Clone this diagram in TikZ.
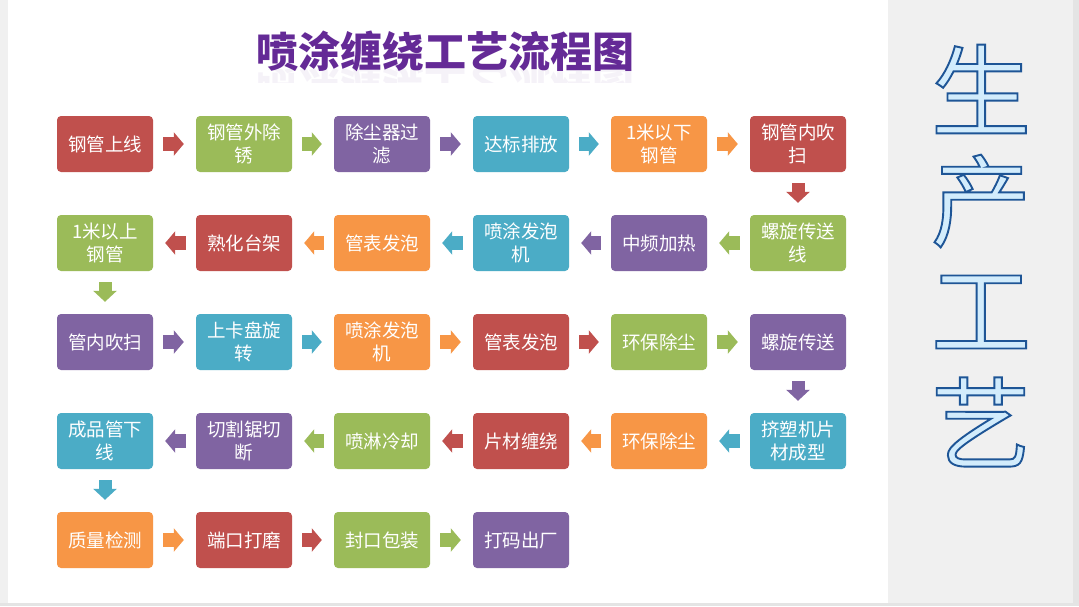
\documentclass[tikz,border=0pt]{standalone}
\usepackage{fontspec}
\usetikzlibrary{arrows.meta}
\newfontfamily\cjk{Noto Sans CJK SC}
\definecolor{cred}{RGB}{192,80,77}
\definecolor{cgreen}{RGB}{155,187,89}
\definecolor{cpurple}{RGB}{128,100,162}
\definecolor{cteal}{RGB}{75,172,198}
\definecolor{corange}{RGB}{247,150,70}
\definecolor{titlecol}{RGB}{100,42,150}
\definecolor{panelgray}{RGB}{240,240,240}
\definecolor{edgegray}{RGB}{228,228,228}
\definecolor{fillblue}{RGB}{210,236,252}
\newcommand{\outlinetext}[1]{\special{pdf:literal direct 0.118 0.333 0.588 RG 2 Tr 1.9 w}#1\special{pdf:literal direct 0 Tr 1 w}}
\tikzset{
  stepbox/.style={fill=#1, rounded corners=4pt, minimum width=96pt, minimum height=56pt,
    inner sep=0pt, text=white, align=center,
    font=\cjk\fontsize{18.5}{22.5}\selectfont},
  flowarr/.style={draw=#1, line width=13.5pt, -{Triangle[length=10pt,width=23pt]},
    shorten <=10pt, shorten >=12pt},
  flowdown/.style={draw=#1, line width=13pt, -{Triangle[length=11pt,width=23pt]},
    shorten <=11pt, shorten >=12pt},
  bigchar/.style={font=\cjk\fontsize{100}{100}\selectfont, text=fillblue, inner sep=0pt}
}
\begin{document}
\begin{tikzpicture}[x=1pt,y=-1pt]
\useasboundingbox (0,0) rectangle (1079,606);
\fill[edgegray] (0,0) rectangle (1079,606);
\fill[panelgray] (0,0) rectangle (1073,603);
\fill[white] (8,0) rectangle (888,603);

% title
\node[text=titlecol, font=\cjk\bfseries\fontsize{42}{42}\selectfont] (title) at (445,51) {喷涂缠绕工艺流程图};
\begin{scope}
\clip (200,69) rectangle (700,82);
\node[text=titlecol, opacity=0.06, yscale=-1, font=\cjk\bfseries\fontsize{42}{42}\selectfont] (titlerefl) at (445,86) {喷涂缠绕工艺流程图};
\end{scope}

% row 1
\node[stepbox=cred]    (a1) at (105,144) {钢管上线};
\node[stepbox=cgreen]  (a2) at (244,144) {钢管外除\\锈};
\node[stepbox=cpurple] (a3) at (382,144) {除尘器过\\滤};
\node[stepbox=cteal]   (a4) at (521,144) {达标排放};
\node[stepbox=corange] (a5) at (659,144) {1米以下\\钢管};
\node[stepbox=cred]    (a6) at (798,144) {钢管内吹\\扫};
% row 2
\node[stepbox=cgreen]  (b6) at (798,243) {螺旋传送\\线};
\node[stepbox=cpurple] (b5) at (659,243) {中频加热};
\node[stepbox=cteal]   (b4) at (521,243) {喷涂发泡\\机};
\node[stepbox=corange] (b3) at (382,243) {管表发泡};
\node[stepbox=cred]    (b2) at (244,243) {熟化台架};
\node[stepbox=cgreen]  (b1) at (105,243) {1米以上\\钢管};
% row 3
\node[stepbox=cpurple] (c1) at (105,342) {管内吹扫};
\node[stepbox=cteal]   (c2) at (244,342) {上卡盘旋\\转};
\node[stepbox=corange] (c3) at (382,342) {喷涂发泡\\机};
\node[stepbox=cred]    (c4) at (521,342) {管表发泡};
\node[stepbox=cgreen]  (c5) at (659,342) {环保除尘};
\node[stepbox=cpurple] (c6) at (798,342) {螺旋传送};
% row 4
\node[stepbox=cteal]   (d6) at (798,441) {挤塑机片\\材成型};
\node[stepbox=corange] (d5) at (659,441) {环保除尘};
\node[stepbox=cred]    (d4) at (521,441) {片材缠绕};
\node[stepbox=cgreen]  (d3) at (382,441) {喷淋冷却};
\node[stepbox=cpurple] (d2) at (244,441) {切割锯切\\断};
\node[stepbox=cteal]   (d1) at (105,441) {成品管下\\线};
% row 5
\node[stepbox=corange] (e1) at (105,540) {质量检测};
\node[stepbox=cred]    (e2) at (244,540) {端口打磨};
\node[stepbox=cgreen]  (e3) at (382,540) {封口包装};
\node[stepbox=cpurple] (e4) at (521,540) {打码出厂};

% arrows
\draw[flowarr=cred]    (a1) -- (a2);
\draw[flowarr=cgreen]  (a2) -- (a3);
\draw[flowarr=cpurple] (a3) -- (a4);
\draw[flowarr=cteal]   (a4) -- (a5);
\draw[flowarr=corange] (a5) -- (a6);
\draw[flowdown=cred]   (a6) -- (b6);
\draw[flowarr=cgreen]  (b6) -- (b5);
\draw[flowarr=cpurple] (b5) -- (b4);
\draw[flowarr=cteal]   (b4) -- (b3);
\draw[flowarr=corange] (b3) -- (b2);
\draw[flowarr=cred]    (b2) -- (b1);
\draw[flowdown=cgreen] (b1) -- (c1);
\draw[flowarr=cpurple] (c1) -- (c2);
\draw[flowarr=cteal]   (c2) -- (c3);
\draw[flowarr=corange] (c3) -- (c4);
\draw[flowarr=cred]    (c4) -- (c5);
\draw[flowarr=cgreen]  (c5) -- (c6);
\draw[flowdown=cpurple] (c6) -- (d6);
\draw[flowarr=cteal]   (d6) -- (d5);
\draw[flowarr=corange] (d5) -- (d4);
\draw[flowarr=cred]    (d4) -- (d3);
\draw[flowarr=cgreen]  (d3) -- (d2);
\draw[flowarr=cpurple] (d2) -- (d1);
\draw[flowdown=cteal]  (d1) -- (e1);
\draw[flowarr=corange] (e1) -- (e2);
\draw[flowarr=cred]    (e2) -- (e3);
\draw[flowarr=cgreen]  (e3) -- (e4);

% side panel text
\node[bigchar] (s1) at (981,89)  {\outlinetext{生}};
\node[bigchar] (s2) at (981,201) {\outlinetext{产}};
\node[bigchar] (s3) at (981,312) {\outlinetext{工}};
\node[bigchar] (s4) at (981,422) {\outlinetext{艺}};
\end{tikzpicture}
\end{document}
